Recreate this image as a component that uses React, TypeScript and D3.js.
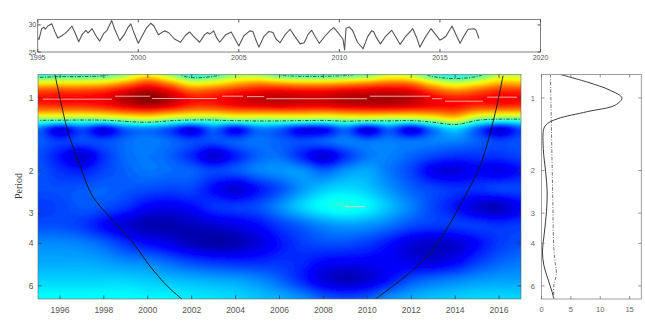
import React, { useMemo } from "react";
import * as d3 from "d3";

// ---- monthly SST series (°C), turning points of the record ----
const seriesYears = [
  1995.0, 1995.06, 1995.2, 1995.3, 1995.38, 1995.5, 1995.7, 1995.85, 1996.0, 1996.2, 1996.35, 1996.5, 1996.7, 1996.85,
  1997.04, 1997.2, 1997.4, 1997.5, 1997.7, 1997.9, 1998.08, 1998.3, 1998.45, 1998.68, 1998.85, 1999.08, 1999.3, 1999.5,
  1999.63, 1999.8, 2000.0, 2000.2, 2000.4, 2000.62, 2000.78, 2001.0, 2001.3, 2001.5, 2001.8, 2002.1, 2002.35, 2002.55,
  2002.75, 2003.05, 2003.3, 2003.45, 2003.55, 2003.75, 2003.9, 2004.05, 2004.35, 2004.62, 2004.8, 2005.0, 2005.25,
  2005.55, 2005.7, 2005.85, 2006.0, 2006.25, 2006.5, 2006.7, 2006.85, 2007.05, 2007.3, 2007.55, 2007.8, 2008.05,
  2008.25, 2008.45, 2008.62, 2008.8, 2009.0, 2009.3, 2009.55, 2009.72, 2009.9, 2010.05, 2010.18, 2010.26, 2010.33,
  2010.5, 2010.65, 2010.9, 2011.18, 2011.4, 2011.6, 2011.7, 2011.85, 2012.04, 2012.3, 2012.6, 2012.8, 2013.02, 2013.3,
  2013.65, 2013.85, 2014.0, 2014.25, 2014.55, 2014.75, 2015.0, 2015.15, 2015.3, 2015.6, 2015.8, 2016.0, 2016.2, 2016.4,
  2016.7, 2016.8, 2016.94,
];
const seriesValues = [
  27.6, 27.3, 29.3, 29.6, 29.2, 29.8, 30.2, 28.8, 27.6, 28.0, 28.4, 28.9, 29.8, 28.6,
  26.9, 28.2, 29.0, 28.5, 29.3, 28.0, 27.0, 28.5, 29.0, 30.8, 29.0, 27.1, 28.2, 29.6,
  30.2, 28.4, 26.6, 28.0, 29.4, 30.3, 29.8, 28.2, 28.9, 28.6, 27.4, 26.8, 28.1, 28.7,
  27.9, 26.8, 28.2, 28.6, 28.3, 28.9, 27.6, 26.8, 28.2, 28.7, 27.5, 26.1, 28.0,
  28.9, 28.8, 27.2, 25.9, 27.9, 28.8, 28.6, 27.4, 26.7, 28.2, 29.2, 27.8, 26.5,
  26.7, 28.3, 29.0, 27.8, 26.6, 28.0, 29.0, 29.5, 28.7, 28.0, 27.4, 25.4, 29.4,
  29.6, 29.0, 26.8, 25.6, 27.8, 28.9, 28.8, 27.6, 26.5, 27.9, 29.0, 27.8, 26.4, 27.9,
  29.3, 27.6, 25.9, 27.6, 29.3, 28.4, 27.2, 27.5, 27.9, 29.8, 28.2, 26.6, 28.0, 29.2,
  29.3, 29.0, 27.5,
];
const topYearTicks = [1995, 2000, 2005, 2010, 2015, 2020];
const topValueTicks = [25, 30];

// ---- wavelet power (normalised colour level 0..1), rows = period, cols = year ----
const powerYears = [1995, 1996, 1997, 1998, 1999, 2000, 2001, 2002, 2003, 2004, 2005, 2006, 2007, 2008, 2009, 2010, 2011, 2012, 2013, 2014, 2015, 2016, 2017];
const powerPeriods = [0.801, 0.871, 0.933, 1.0, 1.072, 1.149, 1.231, 1.338, 1.516, 1.741, 2.0, 2.378, 2.828, 3.364, 4.0, 4.757, 5.657, 6.82];
const power = [
  [0.40, 0.42, 0.42, 0.44, 0.52, 0.63, 0.52, 0.40, 0.43, 0.52, 0.53, 0.45, 0.42, 0.42, 0.44, 0.48, 0.57, 0.55, 0.42, 0.38, 0.43, 0.55, 0.55],
  [0.64, 0.65, 0.65, 0.67, 0.74, 0.82, 0.74, 0.62, 0.64, 0.70, 0.74, 0.72, 0.70, 0.70, 0.72, 0.75, 0.78, 0.76, 0.65, 0.58, 0.63, 0.70, 0.70],
  [0.80, 0.81, 0.81, 0.83, 0.89, 0.94, 0.88, 0.78, 0.80, 0.84, 0.87, 0.88, 0.87, 0.87, 0.89, 0.90, 0.91, 0.89, 0.80, 0.74, 0.78, 0.83, 0.83],
  [0.86, 0.87, 0.87, 0.89, 0.95, 0.99, 0.94, 0.86, 0.86, 0.90, 0.93, 0.94, 0.93, 0.93, 0.95, 0.96, 0.96, 0.94, 0.88, 0.85, 0.86, 0.88, 0.87],
  [0.83, 0.84, 0.84, 0.86, 0.91, 0.95, 0.91, 0.84, 0.84, 0.88, 0.90, 0.91, 0.90, 0.90, 0.92, 0.93, 0.93, 0.91, 0.88, 0.87, 0.84, 0.85, 0.84],
  [0.70, 0.70, 0.70, 0.72, 0.76, 0.78, 0.74, 0.70, 0.70, 0.73, 0.73, 0.74, 0.74, 0.73, 0.75, 0.76, 0.76, 0.75, 0.76, 0.78, 0.70, 0.68, 0.68],
  [0.48, 0.48, 0.47, 0.48, 0.52, 0.55, 0.50, 0.47, 0.47, 0.50, 0.50, 0.50, 0.50, 0.49, 0.51, 0.51, 0.50, 0.50, 0.55, 0.62, 0.48, 0.44, 0.44],
  [0.24, 0.10, 0.20, 0.10, 0.22, 0.25, 0.20, 0.10, 0.23, 0.12, 0.24, 0.22, 0.12, 0.12, 0.23, 0.09, 0.22, 0.10, 0.25, 0.34, 0.22, 0.09, 0.20],
  [0.22, 0.18, 0.20, 0.20, 0.23, 0.25, 0.23, 0.20, 0.20, 0.22, 0.24, 0.22, 0.20, 0.22, 0.25, 0.24, 0.25, 0.24, 0.25, 0.25, 0.22, 0.19, 0.21],
  [0.20, 0.14, 0.08, 0.17, 0.23, 0.24, 0.22, 0.16, 0.08, 0.15, 0.22, 0.23, 0.16, 0.08, 0.17, 0.24, 0.25, 0.22, 0.19, 0.17, 0.17, 0.17, 0.19],
  [0.21, 0.17, 0.15, 0.19, 0.22, 0.24, 0.23, 0.22, 0.19, 0.21, 0.25, 0.27, 0.27, 0.22, 0.27, 0.29, 0.24, 0.19, 0.11, 0.09, 0.12, 0.10, 0.14],
  [0.20, 0.20, 0.21, 0.22, 0.21, 0.20, 0.19, 0.19, 0.13, 0.08, 0.14, 0.20, 0.27, 0.32, 0.34, 0.32, 0.27, 0.22, 0.19, 0.17, 0.17, 0.19, 0.19],
  [0.18, 0.19, 0.21, 0.20, 0.17, 0.12, 0.11, 0.13, 0.17, 0.18, 0.20, 0.26, 0.33, 0.38, 0.40, 0.37, 0.31, 0.25, 0.19, 0.14, 0.08, 0.06, 0.12],
  [0.20, 0.20, 0.18, 0.13, 0.08, 0.05, 0.05, 0.06, 0.08, 0.10, 0.13, 0.18, 0.22, 0.26, 0.28, 0.27, 0.24, 0.20, 0.18, 0.18, 0.18, 0.17, 0.18],
  [0.26, 0.26, 0.25, 0.22, 0.17, 0.13, 0.10, 0.06, 0.04, 0.05, 0.09, 0.14, 0.18, 0.20, 0.20, 0.18, 0.14, 0.09, 0.07, 0.08, 0.13, 0.18, 0.20],
  [0.29, 0.29, 0.29, 0.28, 0.26, 0.25, 0.22, 0.19, 0.17, 0.16, 0.16, 0.17, 0.16, 0.13, 0.12, 0.12, 0.12, 0.10, 0.09, 0.12, 0.18, 0.22, 0.24],
  [0.33, 0.33, 0.33, 0.33, 0.33, 0.32, 0.31, 0.30, 0.29, 0.28, 0.26, 0.22, 0.16, 0.09, 0.06, 0.08, 0.14, 0.20, 0.23, 0.25, 0.27, 0.28, 0.28],
  [0.38, 0.38, 0.38, 0.38, 0.38, 0.37, 0.37, 0.36, 0.35, 0.34, 0.32, 0.30, 0.27, 0.22, 0.20, 0.22, 0.27, 0.30, 0.32, 0.33, 0.34, 0.34, 0.34],
];
const significanceLevel = 0.46;

// ridge segments of local power maxima
const ridgeStart = [1995.23, 1998.51, 2000.19, 2003.38, 2004.52, 2005.4, 2010.12, 2012.95, 2013.54, 2015.46, 2009.0];
const ridgeEnd = [1998.37, 2000.1, 2003.15, 2004.34, 2005.3, 2009.99, 2012.86, 2013.41, 2015.27, 2016.82, 2009.9];
const ridgePeriod = [1.012, 0.984, 1.006, 0.984, 0.988, 1.008, 0.984, 1.008, 1.032, 0.993, 2.82];

// cone of influence
const coiLeftYears = [1995.77, 1996.0, 1996.37, 1996.91, 1997.46, 1998.19, 1999.33, 2000.1, 2000.88, 2001.56];
const coiLeftPeriods = [0.8, 1.0, 1.39, 1.9, 2.53, 3.06, 3.99, 4.97, 6.0, 6.82];
const coiRightYears = [2016.18, 2015.82, 2015.23, 2014.64, 2012.77, 2010.35];
const coiRightPeriods = [0.81, 1.16, 1.81, 2.37, 4.48, 6.82];

const mainYearTicks = [1996, 1998, 2000, 2002, 2004, 2006, 2008, 2010, 2012, 2014, 2016];
const periodTicks = [1, 2, 3, 4, 6];

// global wavelet spectrum and its significance level
const gwsPeriods = [0.8, 0.86, 0.93, 1.0, 1.07, 1.14, 1.22, 1.28, 1.34, 1.62, 2.02, 2.45, 2.96, 3.59, 4.34, 4.93, 5.6, 6.35, 6.8];
const gwsPower = [3.2, 7.8, 11.7, 13.7, 12.6, 7.8, 2.7, 0.97, 0.4, 0.3, 0.7, 0.97, 0.85, 0.5, 0.17, 0.4, 1.07, 1.8, 2.1];
const sigPeriods = [0.8, 1.38, 2.6, 4.2, 4.93, 5.33, 6.0, 6.8];
const sigPower = [1.53, 1.7, 1.92, 2.1, 2.38, 2.55, 2.1, 2.1];
const gwsTicks = [0, 5, 10, 15];

// ---- layout ----
const M = { x0: 38, x1: 521, y0: 74.5, y1: 299 };
const T = { x0: 37.7, x1: 540.5, y0: 19.5, y1: 52 };
const G = { x0: 541.5, x1: 641.3, y0: 74.5, y1: 299 };

const x = d3.scaleLinear().domain([1995, 2017]).range([M.x0, M.x1]);
const y = d3.scaleLog().base(2).domain([0.8, 6.8]).range([M.y0, M.y1]);
const xt = d3.scaleLinear().domain([1995, 2020]).range([T.x0, T.x1]);
const yt = d3.scaleLinear().domain([25, 31]).range([T.y1, T.y0]);
const xg = d3.scaleLinear().domain([0, 17]).range([G.x0, G.x1]);

function jet(t: number) {
  const c = (v: number) => Math.round(255 * Math.max(0, Math.min(1, v)));
  return `rgb(${c(1.5 - Math.abs(4 * t - 3))},${c(1.5 - Math.abs(4 * t - 2))},${c(1.5 - Math.abs(4 * t - 1))})`;
}

function catmull(p0: number, p1: number, p2: number, p3: number, t: number) {
  return 0.5 * (2 * p1 + (-p0 + p2) * t + (2 * p0 - 5 * p1 + 4 * p2 - p3) * t * t + (-p0 + 3 * p1 - 3 * p2 + p3) * t * t * t);
}

const NX = 240, NY = 120, PAD = 4;
const FX0 = M.x0 - PAD, FX1 = M.x1 + PAD, FY0 = M.y0 - PAD, FY1 = M.y1 + PAD;

function buildField() {
  const nr = power.length, nc = power[0].length;
  const colIdx = d3.scaleLinear().domain(powerYears).range(d3.range(nc)).clamp(true);
  const rowIdx = d3.scaleLinear().domain(powerPeriods.map(Math.log2)).range(d3.range(nr)).clamp(true);
  const cl = (v: number, n: number) => Math.max(0, Math.min(n - 1, v));
  const sample = (ci: number, ri: number) => {
    const c = Math.min(Math.floor(ci), nc - 2), r = Math.min(Math.floor(ri), nr - 2);
    const tc = ci - c, tr = ri - r;
    const rows: number[] = [];
    for (let k = -1; k <= 2; k++) {
      const row = power[cl(r + k, nr)];
      rows.push(catmull(row[cl(c - 1, nc)], row[cl(c, nc)], row[cl(c + 1, nc)], row[cl(c + 2, nc)], tc));
    }
    return Math.max(0, Math.min(1, catmull(rows[0], rows[1], rows[2], rows[3], tr)));
  };
  const values = new Array(NX * NY);
  for (let j = 0; j < NY; j++) {
    const py = FY0 + ((j + 0.5) * (FY1 - FY0)) / NY;
    const ri = rowIdx(Math.log2(y.invert(py)));
    for (let i = 0; i < NX; i++) {
      const px = FX0 + ((i + 0.5) * (FX1 - FX0)) / NX;
      values[j * NX + i] = sample(colIdx(x.invert(px)), ri);
    }
  }
  return values;
}

const gridToPixel = d3.geoPath(
  d3.geoTransform({
    point(gx: number, gy: number) {
      (this as any).stream.point(FX0 + (gx * (FX1 - FX0)) / NX, FY0 + (gy * (FY1 - FY0)) / NY);
    },
  })
);

const tickFont = "'Liberation Sans', Arial, sans-serif";

export default function App() {
  const field = useMemo(buildField, []);
  const levels = useMemo(() => d3.range(0, 96).map((k) => k / 96), []);
  const bands = useMemo(() => d3.contours().size([NX, NY]).thresholds(levels)(field), [field, levels]);
  const sig = useMemo(() => d3.contours().size([NX, NY]).thresholds([significanceLevel])(field)[0], [field]);

  const seriesLine = d3.line<number>().x((_, i) => xt(seriesYears[i])).y((v) => yt(v));
  const coiLine = d3.line<[number, number]>().curve(d3.curveCatmullRom.alpha(0.5));
  const coiLeft = coiLine(coiLeftYears.map((yr, i) => [x(yr), y(coiLeftPeriods[i])] as [number, number]));
  const coiRight = coiLine(coiRightYears.map((yr, i) => [x(yr), y(coiRightPeriods[i])] as [number, number]));
  const specLine = d3.line<[number, number]>().curve(d3.curveCatmullRom.alpha(0.5));
  const gwsPath = specLine(gwsPeriods.map((p, i) => [xg(gwsPower[i]), y(p)]));
  const sigPath = specLine(sigPeriods.map((p, i) => [xg(sigPower[i]), y(p)]));

  return (
    <svg width={645} height={327} style={{ position: "absolute", left: 0, top: 0, display: "block" }}>
      <defs>
        <clipPath id="mainClip">
          <rect x={M.x0} y={M.y0} width={M.x1 - M.x0} height={M.y1 - M.y0} />
        </clipPath>
        <clipPath id="sigClip">
          <rect x={M.x0 + 0.8} y={M.y0 + 0.8} width={M.x1 - M.x0 - 1.6} height={M.y1 - M.y0 - 1.6} />
        </clipPath>
        <clipPath id="gwsClip">
          <rect x={G.x0} y={G.y0} width={G.x1 - G.x0} height={G.y1 - G.y0} />
        </clipPath>
        <filter id="soft" x="-5%" y="-5%" width="110%" height="110%">
          <feGaussianBlur stdDeviation="0.9" />
        </filter>
      </defs>
      <rect width={645} height={327} fill="#fff" />

      {/* time series panel */}
      <g>
        <path d={seriesLine(seriesValues) || ""} fill="none" stroke="#555" strokeWidth={1.1} strokeLinejoin="round" />
        <rect x={T.x0} y={T.y0} width={T.x1 - T.x0} height={T.y1 - T.y0} fill="none" stroke="#808080" strokeWidth={1} />
        {topYearTicks.map((t) => (
          <g key={t}>
            <line x1={xt(t)} x2={xt(t)} y1={T.y0} y2={T.y0 + 3} stroke="#555" />
            <line x1={xt(t)} x2={xt(t)} y1={T.y1} y2={T.y1 - 3} stroke="#555" />
            <text x={xt(t)} y={60} fontSize={7} fontFamily={tickFont} fill="#555" textAnchor="middle">{t}</text>
          </g>
        ))}
        {topValueTicks.map((v) => (
          <g key={v}>
            <line x1={T.x0} x2={T.x0 + 3} y1={yt(v)} y2={yt(v)} stroke="#555" />
            <line x1={T.x1} x2={T.x1 - 3} y1={yt(v)} y2={yt(v)} stroke="#555" />
            <text x={T.x0 - 1.5} y={yt(v) + 2.5} fontSize={7} fontFamily={tickFont} fill="#555" textAnchor="end">{v}</text>
          </g>
        ))}
      </g>

      {/* wavelet power spectrum */}
      <g clipPath="url(#mainClip)">
        <g filter="url(#soft)">
          {bands.map((b, k) => (
            <path key={k} d={gridToPixel(b as any) || ""} fill={jet(levels[k] + 0.5 / 96)} />
          ))}
        </g>
      </g>
      <g clipPath="url(#sigClip)">
        <path d={gridToPixel(sig as any) || ""} fill="none" stroke="#1a2a2a" strokeWidth={0.8} strokeDasharray="3.5,1.5,1,1.5" />
      </g>
      <g clipPath="url(#mainClip)">
        {ridgeStart.map((s, i) => (
          <line key={i} x1={x(s)} x2={x(ridgeEnd[i])} y1={y(ridgePeriod[i])} y2={y(ridgePeriod[i])} stroke="#f0c8c0" strokeWidth={1} opacity={0.85} />
        ))}
        <path d={coiLeft || ""} fill="none" stroke="#151515" strokeWidth={0.9} />
        <path d={coiRight || ""} fill="none" stroke="#151515" strokeWidth={0.9} />
      </g>
      <rect x={M.x0} y={M.y0} width={M.x1 - M.x0} height={M.y1 - M.y0} fill="none" stroke="#666" strokeWidth={0.6} />
      {mainYearTicks.map((t) => (
        <g key={t}>
          <line x1={x(t)} x2={x(t)} y1={M.y1} y2={M.y1 - 3.5} stroke="#333" strokeWidth={0.7} />
          <line x1={x(t)} x2={x(t)} y1={M.y0} y2={M.y0 + 3.5} stroke="#333" strokeWidth={0.7} />
          <text x={x(t)} y={312.5} fontSize={8.5} fontFamily={tickFont} fill="#555" textAnchor="middle">{t}</text>
        </g>
      ))}
      {periodTicks.map((p) => (
        <g key={p}>
          <line x1={M.x0} x2={M.x0 + 3.5} y1={y(p)} y2={y(p)} stroke="#333" strokeWidth={0.7} />
          <line x1={M.x1} x2={M.x1 - 3.5} y1={y(p)} y2={y(p)} stroke="#333" strokeWidth={0.7} />
          <text x={33.5} y={y(p) + 3} fontSize={8.5} fontFamily={tickFont} fill="#555" textAnchor="end">{p}</text>
        </g>
      ))}
      <text transform="translate(22,186) rotate(-90)" fontSize={10} fontFamily="'Liberation Serif', 'Times New Roman', serif" fill="#333" textAnchor="middle">Period</text>

      {/* global wavelet spectrum */}
      <g clipPath="url(#gwsClip)">
        <path d={sigPath || ""} fill="none" stroke="#666" strokeWidth={0.9} strokeDasharray="3.5,1.5,1,1.5" />
        <path d={gwsPath || ""} fill="none" stroke="#3c3c3c" strokeWidth={1} />
      </g>
      <rect x={G.x0} y={G.y0} width={G.x1 - G.x0} height={G.y1 - G.y0} fill="none" stroke="#888" strokeWidth={0.8} />
      {gwsTicks.map((t) => (
        <g key={t}>
          <line x1={xg(t)} x2={xg(t)} y1={G.y1} y2={G.y1 - 3} stroke="#666" strokeWidth={0.7} />
          <line x1={xg(t)} x2={xg(t)} y1={G.y0} y2={G.y0 + 3} stroke="#666" strokeWidth={0.7} />
          <text x={xg(t)} y={311.5} fontSize={7.5} fontFamily={tickFont} fill="#666" textAnchor="middle">{t}</text>
        </g>
      ))}
      {periodTicks.map((p) => (
        <g key={p}>
          <line x1={G.x0} x2={G.x0 + 3} y1={y(p)} y2={y(p)} stroke="#666" strokeWidth={0.7} />
          <line x1={G.x1} x2={G.x1 - 3} y1={y(p)} y2={y(p)} stroke="#666" strokeWidth={0.7} />
          <text x={535} y={y(p) + 2.7} fontSize={7.5} fontFamily={tickFont} fill="#666" textAnchor="end">{p}</text>
        </g>
      ))}
    </svg>
  );
}
